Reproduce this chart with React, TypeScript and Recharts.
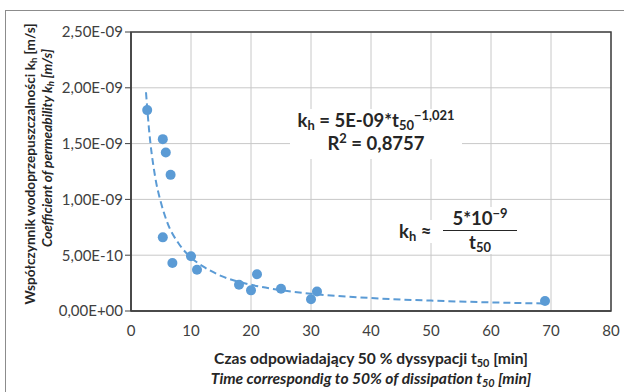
import { ComposedChart, CartesianGrid, Line, ReferenceArea, Scatter, XAxis, YAxis } from "recharts";

// measured points: t50 [min] vs kh [m/s]
const t50 = [2.7, 5.3, 5.8, 6.6, 5.3, 6.9, 10, 11, 18, 20, 21, 25, 30, 31, 69];
const kh = [
  1.8e-9, 1.54e-9, 1.42e-9, 1.22e-9, 0.66e-9, 0.43e-9, 0.49e-9, 0.37e-9,
  0.235e-9, 0.185e-9, 0.33e-9, 0.2e-9, 0.105e-9, 0.175e-9, 0.09e-9,
];

// power trend line
const trendT = [2.5, 3, 4, 5, 6, 8, 10, 12, 15, 20, 25, 30, 40, 50, 60, 69];
const trendKh = [
  1.96e-9, 1.63e-9, 1.21e-9, 0.97e-9, 0.8e-9, 0.6e-9, 0.48e-9, 0.4e-9,
  0.315e-9, 0.235e-9, 0.187e-9, 0.155e-9, 0.116e-9, 0.093e-9, 0.077e-9, 0.067e-9,
];

const xTicks = [0, 10, 20, 30, 40, 50, 60, 70, 80];
const yTicks = [0, 0.5e-9, 1e-9, 1.5e-9, 2e-9, 2.5e-9];
const yTickLabels = ["0,00E+00", "5,00E-10", "1,00E-09", "1,50E-09", "2,00E-09", "2,50E-09"];

const points = t50.map((t, i) => ({ x: t, y: kh[i] }));
const trend = trendT.map((t, i) => ({ x: t, y: trendKh[i] }));

const BLUE = "#5B9BD5";
const FONT = "Lato, 'Open Sans', sans-serif";
const TEXT = "#262626";

const sub = { fontSize: "0.7em", verticalAlign: "-0.25em", lineHeight: 0 } as const;
const sup = { fontSize: "0.7em", verticalAlign: "0.55em", lineHeight: 0 } as const;

export default function App() {
  return (
    <div
      style={{
        position: "absolute",
        left: 0,
        top: 0,
        width: 624,
        height: 392,
        overflow: "hidden",
        background: "#fff",
        fontFamily: FONT,
        color: TEXT,
      }}
    >
      <div
        style={{
          position: "absolute",
          left: 5,
          top: 10,
          width: 640,
          height: 400,
          border: "1px solid #8c8c8c",
        }}
      />
      <ComposedChart
        width={624}
        height={392}
        margin={{ top: 32, right: 13, bottom: 51, left: 0 }}
        style={{ position: "absolute", left: 0, top: 0 }}
      >
        <CartesianGrid stroke="#c8c8c8" strokeWidth={1} />
        <XAxis
          type="number"
          dataKey="x"
          domain={[0, 80]}
          ticks={xTicks}
          allowDataOverflow
          height={30}
          tickLine={false}
          axisLine={{ stroke: "#404040", strokeWidth: 1.5 }}
          tick={{ fill: "#404040", fontSize: 15, fontFamily: FONT }}
          tickMargin={8}
        />
        <YAxis
          type="number"
          dataKey="y"
          domain={[0, 2.5e-9]}
          ticks={yTicks}
          allowDataOverflow
          width={131}
          tickSize={6}
          tickLine={{ stroke: "#404040" }}
          axisLine={{ stroke: "#404040", strokeWidth: 1.5 }}
          tick={{ fill: "#404040", fontSize: 15, fontFamily: FONT }}
          tickFormatter={(v: number) => yTickLabels[yTicks.indexOf(v)] ?? ""}
        />
        <ReferenceArea
          x1={0}
          x2={80}
          y1={0}
          y2={2.5e-9}
          fill="none"
          stroke="#404040"
          strokeWidth={1.5}
          ifOverflow="visible"
        />
        <Line
          data={trend}
          dataKey="y"
          type="monotone"
          stroke={BLUE}
          strokeWidth={2}
          strokeDasharray="7 4"
          dot={false}
          activeDot={false}
          isAnimationActive={false}
        />
        <Scatter
          data={points}
          dataKey="y"
          fill={BLUE}
          shape={(p: any) => <circle cx={p.cx} cy={p.cy} r={5} fill={BLUE} />}
          isAnimationActive={false}
        />
      </ComposedChart>

      {/* equation box 1 */}
      <div
        style={{
          position: "absolute",
          left: 290,
          top: 109,
          width: 172,
          height: 50,
          background: "#fff",
          textAlign: "center",
          fontWeight: 700,
          fontSize: 18.5,
          lineHeight: "23px",
        }}
      >
        <div>
          k<span style={sub}>h</span> = 5E-09*t<span style={sub}>50</span>
          <span style={sup}>−1,021</span>
        </div>
        <div>
          R<span style={sup}>2</span> = 0,8757
        </div>
      </div>

      {/* equation box 2 */}
      <div
        style={{
          position: "absolute",
          left: 396,
          top: 220,
          fontWeight: 700,
          fontSize: 18.5,
          lineHeight: "23px",
          background: "#fff",
          padding: "0 3px",
        }}
      >
        k<span style={sub}>h</span> ≈
      </div>
      <div
        style={{
          position: "absolute",
          left: 443,
          top: 207,
          width: 74,
          textAlign: "center",
          fontWeight: 700,
          fontSize: 18.5,
          lineHeight: "23px",
        }}
      >
        <div style={{ borderBottom: `1.5px solid ${TEXT}`, background: "#fff" }}>
          5*10<span style={sup}>−9</span>
        </div>
        <div style={{ display: "inline-block", background: "#fff", padding: "0 6px" }}>
          t<span style={sub}>50</span>
        </div>
      </div>

      {/* x axis title */}
      <div
        style={{
          position: "absolute",
          left: 131,
          width: 480,
          top: 348,
          textAlign: "center",
          fontWeight: 700,
          fontSize: 15.6,
          lineHeight: "20px",
        }}
      >
        <div>
          Czas odpowiadający 50 % dyssypacji t<span style={sub}>50</span> [min]
        </div>
        <div style={{ fontStyle: "italic" }}>
          Time correspondig to 50% of dissipation t<span style={sub}>50</span> [min]
        </div>
      </div>

      {/* y axis title */}
      <div
        style={{
          position: "absolute",
          left: 30,
          top: 164,
          transform: "translate(-50%, -50%) rotate(-90deg)",
          whiteSpace: "nowrap",
          fontWeight: 700,
          fontSize: 13.6,
          lineHeight: "18px",
        }}
      >
        Współczynnik wodoprzepuszczalności k<span style={sub}>h</span> [m/s]
      </div>
      <div
        style={{
          position: "absolute",
          left: 47,
          top: 148,
          transform: "translate(-50%, -50%) rotate(-90deg)",
          whiteSpace: "nowrap",
          fontWeight: 700,
          fontStyle: "italic",
          fontSize: 13.6,
          lineHeight: "18px",
        }}
      >
        Coefficient of permeability k<span style={sub}>h</span> [m/s]
      </div>
    </div>
  );
}
